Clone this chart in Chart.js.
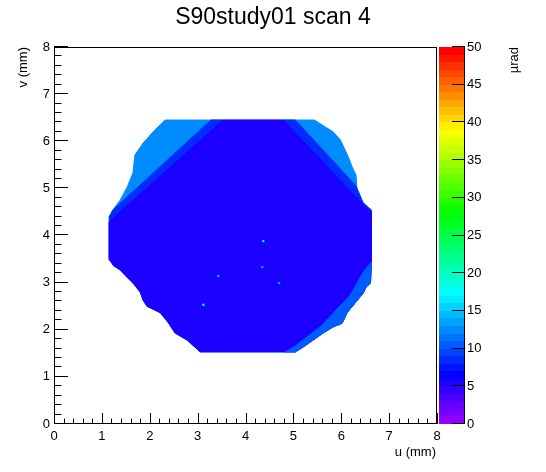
<!DOCTYPE html>
<html>
<head>
<meta charset="utf-8">
<title>S90study01 scan 4</title>
<script src="https://cdn.jsdelivr.net/npm/chart.js@4.4.1/dist/chart.umd.min.js"></script>
<style>
  body { margin: 0; background: #fff; }
</style>
</head>
<body>
<canvas id="myChart" width="546" height="472"></canvas>
<script>
const uTicks = [0, 1, 2, 3, 4, 5, 6, 7, 8];
const vTicks = [0, 1, 2, 3, 4, 5, 6, 7, 8];
const zTicks = [0, 5, 10, 15, 20, 25, 30, 35, 40, 45, 50];

// outer edge of the scanned area, u and v in mm
const outlineU = [1.15, 1.15, 1.23, 1.38, 1.53, 1.65, 1.69, 1.86, 2.07, 2.22, 2.32, 5.44, 5.67, 5.83, 5.98, 6.13, 6.23, 6.31, 6.33, 6.46, 6.63,
  6.63, 6.61, 6.52, 6.46, 6.29, 6.12, 6.02, 5.83, 5.62, 5.41, 5.20, 5.04, 3.05, 2.99, 2.78, 2.53, 2.38, 2.22, 1.94, 1.86, 1.80, 1.65, 1.48, 1.38, 1.23];
const outlineV = [3.48, 4.39, 4.54, 4.75, 5.03, 5.33, 5.71, 5.96, 6.20, 6.35, 6.45, 6.45, 6.30, 6.20, 6.03, 5.71, 5.45, 5.28, 4.90, 4.69, 4.54,
  3.44, 2.99, 2.91, 2.78, 2.57, 2.36, 2.14, 2.06, 1.93, 1.78, 1.63, 1.53, 1.53, 1.59, 1.78, 1.93, 2.16, 2.36, 2.50, 2.63, 2.80, 2.99, 3.16, 3.27, 3.37];

// low-noise core (the octagon without the two upper corners)
const coreU = [1.15, 1.15, 3.53, 4.79, 6.63,
  6.63, 6.61, 6.52, 6.46, 6.29, 6.12, 6.02, 5.83, 5.62, 5.41, 5.20, 5.04, 3.05, 2.99, 2.78, 2.53, 2.38, 2.22, 1.94, 1.86, 1.80, 1.65, 1.48, 1.38, 1.23];
const coreV = [3.48, 4.29, 6.45, 6.45, 4.47,
  3.44, 2.99, 2.91, 2.78, 2.57, 2.36, 2.14, 2.06, 1.93, 1.78, 1.63, 1.53, 1.53, 1.59, 1.78, 1.93, 2.16, 2.36, 2.50, 2.63, 2.80, 2.99, 3.16, 3.27, 3.37];

// smoother strips along the two upper cuts and the lower right edge
const leftStripU = [1.15, 3.53, 3.28, 1.23, 1.15];
const leftStripV = [4.29, 6.45, 6.45, 4.54, 4.39];
const rightStripU = [4.79, 5.04, 6.31, 6.46, 6.63, 6.63];
const rightStripV = [6.45, 6.45, 5.05, 4.69, 4.54, 4.47];
const lowerStripU = [6.63, 6.61, 6.52, 6.46, 6.29, 6.12, 6.02, 5.83, 5.62, 5.41, 5.20, 5.04, 4.83, 5.00, 5.56, 6.19, 6.46, 6.63];
const lowerStripV = [3.44, 2.99, 2.91, 2.78, 2.57, 2.36, 2.14, 2.06, 1.93, 1.78, 1.63, 1.53, 1.53, 1.63, 2.06, 2.74, 3.23, 3.44];

// mean deflection of each region, µrad
const regionNames = ['outline', 'leftStrip', 'rightStrip', 'core', 'lowerStrip'];
const regionZ = [12, 8, 8, 5, 10];

// single hot cells inside the core
const spotU = [4.37, 3.43, 3.12, 4.70, 4.35];
const spotV = [3.88, 3.14, 2.53, 2.99, 3.33];
const spotZ = [16, 14, 17, 13, 13];

// ROOT "pretty" palette: 50 hues from violet to red
function zColor(z) {
  const i = Math.max(0, Math.min(49, Math.floor(z)));
  const hue = 280 - (i + 1) * 5.6;
  return 'hsl(' + hue + ', 100%, 50%)';
}

const toPoints = (us, vs) => us.map((u, i) => ({ x: u, y: vs[i] }));

const polygons = {
  outline: toPoints(outlineU, outlineV),
  leftStrip: toPoints(leftStripU, leftStripV),
  rightStrip: toPoints(rightStripU, rightStripV),
  core: toPoints(coreU, coreV),
  lowerStrip: toPoints(lowerStripU, lowerStripV)
};

const datasets = regionNames.map((name, k) => ({
  label: name,
  data: polygons[name],
  fill: 'shape',
  backgroundColor: zColor(regionZ[k]),
  borderColor: zColor(regionZ[k]),
  borderWidth: 1,
  pointRadius: 0,
  tension: 0,
  order: 10 - k
}));

datasets.push({
  label: 'spots',
  data: toPoints(spotU, spotV),
  showLine: false,
  pointStyle: 'rect',
  pointRadius: 1.6,
  pointBorderWidth: 0,
  pointBackgroundColor: spotZ.map(zColor),
  order: 1
});

const FONT = '"Liberation Sans", Arial, Helvetica, sans-serif';

// frame, inward ticks, labels and colour bar in ROOT style
const rootFrame = {
  id: 'rootFrame',
  afterDraw(chart) {
    const { ctx, chartArea: a, scales } = chart;
    const x = scales.x, y = scales.y, z = scales.z;
    const left = Math.round(a.left), right = Math.round(a.right);
    const top = Math.round(a.top), bottom = Math.round(a.bottom);
    ctx.save();

    // colour bar
    const barL = right + 2, barR = right + 28;
    const nBands = zTicks[zTicks.length - 1];
    for (let i = 0; i < nBands; i++) {
      const y0 = Math.round(z.getPixelForValue(i));
      const y1 = Math.round(z.getPixelForValue(i + 1));
      ctx.fillStyle = zColor(i);
      ctx.fillRect(barL, y1, barR - barL, y0 - y1);
    }

    ctx.strokeStyle = '#000';
    ctx.fillStyle = '#000';
    ctx.lineWidth = 1;

    // frame
    ctx.strokeRect(left + 0.5, top + 0.5, right - left - 1, bottom - top - 1);

    ctx.beginPath();
    // x ticks
    for (let u = 0; u <= 8.0001; u += 0.2) {
      const major = Math.abs(u - Math.round(u)) < 1e-6;
      const px = Math.round(x.getPixelForValue(u)) + 0.5;
      ctx.moveTo(px, bottom);
      ctx.lineTo(px, bottom - (major ? 11 : 5.5));
    }
    // y ticks
    for (let v = 0; v <= 8.0001; v += 0.2) {
      const major = Math.abs(v - Math.round(v)) < 1e-6;
      const py = Math.round(y.getPixelForValue(v)) - 0.5;
      ctx.moveTo(left, py);
      ctx.lineTo(left + (major ? 14 : 7.5), py);
    }
    // colour bar axis
    ctx.moveTo(barR - 0.5, top);
    ctx.lineTo(barR - 0.5, bottom);
    zTicks.forEach(t => {
      const py = Math.round(z.getPixelForValue(t)) - 0.5;
      ctx.moveTo(barR, py);
      ctx.lineTo(barR - 13, py);
    });
    ctx.stroke();

    // tick labels
    ctx.font = '13px ' + FONT;
    ctx.textAlign = 'center';
    ctx.textBaseline = 'alphabetic';
    uTicks.forEach(t => ctx.fillText(String(t), x.getPixelForValue(t), bottom + 16));
    ctx.textAlign = 'right';
    ctx.textBaseline = 'middle';
    vTicks.forEach(t => ctx.fillText(String(t), left - 4, y.getPixelForValue(t)));
    ctx.textAlign = 'left';
    zTicks.forEach(t => ctx.fillText(String(t), barR + 2, z.getPixelForValue(t)));

    // axis titles
    ctx.textBaseline = 'alphabetic';
    ctx.textAlign = 'right';
    ctx.fillText('u (mm)', right - 1, bottom + 32);
    ctx.save();
    ctx.translate(27, top);
    ctx.rotate(-Math.PI / 2);
    ctx.fillText('v (mm)', 0, 0);
    ctx.restore();
    ctx.save();
    ctx.translate(518, top);
    ctx.rotate(-Math.PI / 2);
    ctx.fillText('\u00b5rad', 0, 0);
    ctx.restore();

    // title
    ctx.font = '23px ' + FONT;
    ctx.textAlign = 'center';
    ctx.fillText('S90study01 scan 4', 273, 24);
    ctx.restore();
  }
};

const ctx = document.getElementById('myChart').getContext('2d');
const myChart = new Chart(ctx, {
  type: 'line',
  data: { datasets: datasets },
  options: {
    responsive: false,
    animation: false,
    devicePixelRatio: 1,
    layout: { padding: { left: 54, top: 47, right: 109, bottom: 48 } },
    scales: {
      x: { type: 'linear', min: 0, max: 8, display: false },
      y: { type: 'linear', min: 0, max: 8, display: false },
      z: { type: 'linear', position: 'right', min: 0, max: 50, display: false }
    },
    plugins: {
      legend: { display: false },
      tooltip: { enabled: false }
    }
  },
  plugins: [rootFrame]
});
</script>
</body>
</html>
